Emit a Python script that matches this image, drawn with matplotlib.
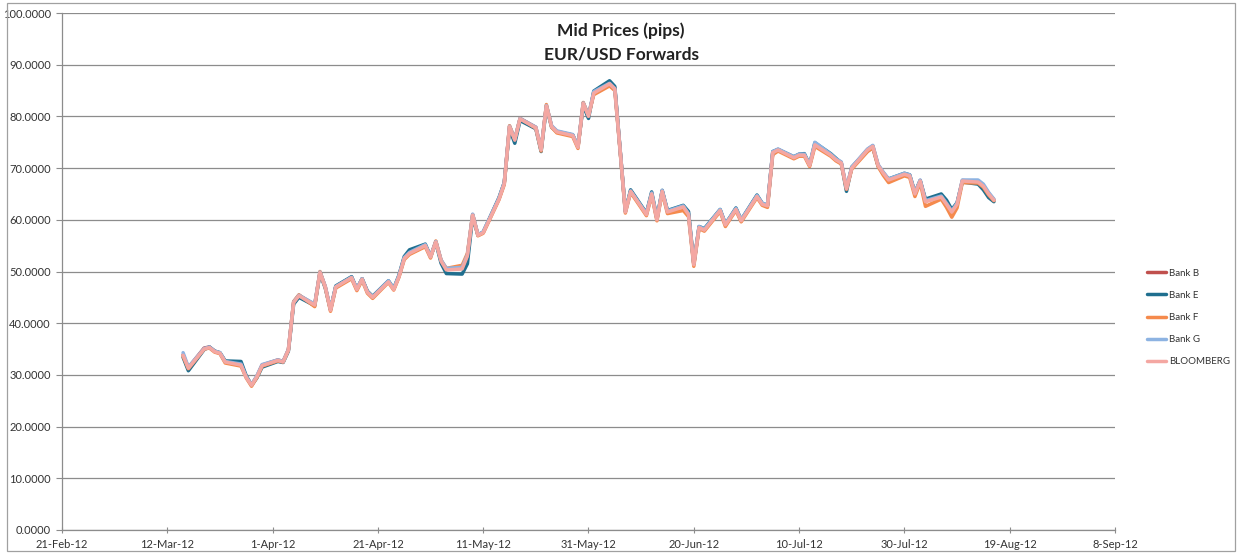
import pandas as pd
import matplotlib
matplotlib.use("Agg")
import matplotlib.pyplot as plt
from matplotlib.patches import Rectangle

plt.rcParams['font.family'] = ['Lato', 'DejaVu Sans']

# trading days covered by the quotes
dates = pd.bdate_range("2012-03-15", "2012-08-16")

bloomberg = [
    33.8, 31.3, 35.0, 35.3, 34.5, 34.2, 32.5, 31.9, 29.5, 28.0,
    29.6, 31.8, 32.8, 32.5, 34.8, 44.0, 45.3, 43.5, 49.8, 47.0,
    42.5, 47.0, 48.8, 46.5, 48.5, 46.0, 45.0, 48.0, 46.5, 49.0,
    52.5, 53.5, 55.0, 52.8, 55.7, 52.0, 50.3, 50.5, 53.0, 60.9,
    57.0, 57.5, 64.0, 67.0, 78.0, 75.4, 79.5, 77.8, 73.5, 82.0,
    78.0, 77.0, 76.3, 74.0, 82.5, 80.0, 84.5, 86.3, 85.3, 73.5,
    61.5, 65.5, 61.0, 65.0, 60.0, 65.5, 61.5, 62.5, 61.0, 51.3,
    58.5, 58.0, 61.8, 59.0, 60.5, 62.0, 59.8, 64.5, 63.0, 62.7,
    73.0, 73.5, 72.0, 72.5, 72.5, 70.5, 74.5, 72.5, 71.6, 71.0,
    66.0, 70.0, 73.5, 74.2, 70.5, 69.0, 67.7, 68.8, 68.5, 65.0,
    67.5, 63.5, 64.4, 63.0, 61.5, 63.0, 67.5, 67.3, 66.5, 65.0,
    63.8,
]

bank_b = [
    33.9, 31.4, 35.2, 35.4, 34.6, 34.2, 32.6, 32.0, 29.6, 28.1,
    29.7, 31.9, 32.9, 32.6, 34.9, 44.1, 45.4, 43.6, 49.9, 47.1,
    42.6, 47.1, 48.9, 46.6, 48.6, 46.1, 45.1, 48.1, 46.6, 49.1,
    52.6, 53.6, 55.1, 52.9, 55.8, 52.1, 50.4, 50.6, 53.1, 61.0,
    57.1, 57.6, 64.1, 67.1, 78.1, 75.5, 79.6, 77.9, 73.6, 82.1,
    78.1, 77.1, 76.4, 74.1, 82.6, 80.1, 84.6, 86.5, 85.5, 73.6,
    61.6, 65.6, 61.1, 65.1, 60.1, 65.6, 61.6, 62.6, 61.1, 51.4,
    58.6, 58.1, 61.9, 59.1, 60.6, 62.1, 59.9, 64.6, 63.1, 62.8,
    73.1, 73.6, 72.1, 72.6, 72.6, 70.6, 74.6, 72.6, 71.7, 71.1,
    66.1, 70.1, 73.6, 74.3, 70.6, 69.1, 67.8, 68.9, 68.6, 65.1,
    67.6, 63.6, 64.5, 63.1, 61.6, 63.1, 67.6, 67.4, 66.6, 65.1,
    63.9,
]

bank_e = [
    33.4, 30.8, 34.9, 35.4, 34.6, 34.3, 32.7, 32.6, 29.8, 28.0,
    29.4, 31.5, 32.6, 32.4, 34.6, 43.7, 45.0, 43.4, 49.6, 46.8,
    42.6, 47.2, 49.0, 46.6, 48.6, 46.2, 45.2, 48.2, 46.7, 49.3,
    52.9, 54.2, 55.3, 52.9, 55.6, 51.6, 49.6, 49.5, 51.5, 60.6,
    57.0, 57.6, 64.3, 67.2, 77.6, 74.8, 79.2, 77.6, 73.2, 81.8,
    77.9, 77.0, 76.4, 74.2, 82.1, 79.6, 84.9, 86.9, 85.8, 73.6,
    61.7, 65.8, 61.3, 65.4, 60.3, 65.7, 61.8, 62.8, 61.6, 51.5,
    58.7, 58.3, 62.0, 59.2, 60.7, 62.3, 60.0, 64.8, 63.2, 62.8,
    73.2, 73.6, 72.2, 72.7, 72.8, 70.6, 74.9, 72.8, 71.9, 71.0,
    65.5, 70.2, 73.3, 74.0, 70.4, 68.9, 67.9, 69.0, 68.7, 65.3,
    67.6, 64.0, 65.0, 63.8, 62.0, 63.3, 67.3, 66.9, 65.8, 64.3,
    63.5,
]

bank_f = [
    33.6, 31.2, 35.0, 35.2, 34.4, 34.1, 32.3, 31.7, 29.4, 27.8,
    29.5, 31.7, 32.7, 32.5, 34.8, 44.2, 45.5, 43.2, 50.0, 46.9,
    42.3, 46.8, 48.6, 46.3, 48.3, 45.8, 44.8, 47.9, 46.4, 48.9,
    52.3, 53.3, 54.8, 52.6, 55.9, 52.2, 50.6, 51.2, 53.5, 61.0,
    56.9, 57.4, 63.9, 66.8, 78.2, 75.6, 79.6, 77.7, 73.3, 82.3,
    77.9, 76.8, 76.1, 73.8, 82.7, 80.2, 84.2, 85.9, 85.0, 73.3,
    61.3, 65.3, 60.8, 64.8, 59.8, 65.3, 61.2, 61.8, 60.6, 51.0,
    58.3, 57.8, 61.6, 58.7, 60.3, 61.8, 59.6, 64.3, 62.8, 62.4,
    72.6, 73.3, 71.8, 72.3, 72.3, 70.3, 74.2, 72.3, 71.4, 70.8,
    65.9, 69.8, 73.2, 73.9, 70.3, 68.6, 67.2, 68.5, 68.2, 64.5,
    67.2, 62.6, 64.0, 62.4, 60.5, 62.3, 67.2, 67.1, 66.3, 64.8,
    63.7,
]

bank_g = [
    34.3, 31.5, 35.1, 35.4, 34.6, 34.3, 32.6, 32.1, 29.6, 28.1,
    29.8, 32.0, 32.9, 32.6, 34.9, 44.1, 45.4, 43.7, 49.9, 47.1,
    42.7, 47.1, 48.9, 46.7, 48.6, 46.1, 45.1, 48.2, 46.7, 49.2,
    52.7, 53.7, 55.2, 52.9, 55.8, 52.2, 50.6, 50.8, 53.2, 61.1,
    57.1, 57.7, 64.2, 67.2, 78.1, 75.6, 79.6, 77.9, 73.6, 82.1,
    78.2, 77.2, 76.5, 74.2, 82.6, 80.2, 84.8, 86.4, 85.4, 73.6,
    61.6, 65.6, 61.2, 65.2, 60.2, 65.7, 61.7, 62.7, 61.2, 51.5,
    58.7, 58.2, 62.0, 59.2, 60.7, 62.2, 60.0, 64.7, 63.2, 62.9,
    73.2, 73.7, 72.2, 72.7, 72.7, 70.7, 75.0, 72.7, 71.8, 71.2,
    66.2, 70.2, 73.7, 74.4, 70.7, 69.2, 67.9, 69.0, 68.7, 65.2,
    67.7, 63.7, 64.6, 63.2, 61.7, 63.2, 67.7, 67.7, 66.9, 65.3,
    64.0,
]

series = [
    ("Bank B", bank_b, "#c0504d"),
    ("Bank E", bank_e, "#1f6f8f"),
    ("Bank F", bank_f, "#f58a4c"),
    ("Bank G", bank_g, "#8db3e2"),
    ("BLOOMBERG", bloomberg, "#f4a7a2"),
]

x_ticks = pd.date_range("2012-02-21", "2012-09-08", freq="20D")
y_ticks = range(0, 101, 10)

W, H = 1242, 554
fig = plt.figure(figsize=(W / 100, H / 100), dpi=100)
ax = fig.add_axes([62 / W, (H - 530) / H, (1115 - 62) / W, (530 - 13) / H])

lines = []
for name, values, color in series:
    ln, = ax.plot(dates, values, color=color, lw=2.5, label=name,
                  solid_joinstyle="round", solid_capstyle="round")
    lines.append(ln)

ax.set_xlim(x_ticks[0], x_ticks[-1])
ax.set_ylim(0, 100)
ax.set_xticks(x_ticks)
ax.set_xticklabels([f"{d.day}-{d:%b-%y}" for d in x_ticks])
ax.set_yticks(list(y_ticks))
ax.set_yticklabels([f"{v:.4f}" for v in y_ticks])

ax.grid(axis="y", color="#8c8c8c", lw=0.9)
ax.set_axisbelow(True)
for side in ("top", "right"):
    ax.spines[side].set_visible(False)
for side in ("left", "bottom"):
    ax.spines[side].set_color("#8c8c8c")
    ax.spines[side].set_linewidth(0.9)
ax.tick_params(axis="x", direction="inout", length=5, color="#8c8c8c",
               labelsize=8, labelcolor="#333333", pad=4)
ax.tick_params(axis="y", direction="out", length=4, color="#8c8c8c",
               labelsize=8, labelcolor="#333333", pad=4)

fig.text(0.5, 1 - 31 / H, "Mid Prices (pips)", ha="center", va="center",
         fontsize=12.5, fontweight="bold", color="#222222")
fig.text(0.5, 1 - 55 / H, "EUR/USD Forwards", ha="center", va="center",
         fontsize=12.5, fontweight="bold", color="#222222")

fig.legend(handles=lines, loc="upper left",
           bbox_to_anchor=(1138 / W, 1 - 260 / H), frameon=False,
           fontsize=7, handlelength=2.0, handletextpad=0.3,
           labelspacing=1.35, labelcolor="#333333")

fig.patches.append(Rectangle((7 / W, 3 / H), (W - 14) / W, (H - 6) / H,
                             transform=fig.transFigure, fill=False,
                             edgecolor="#a0a0a0", lw=0.9))

fig.savefig("out.png", dpi=100)
